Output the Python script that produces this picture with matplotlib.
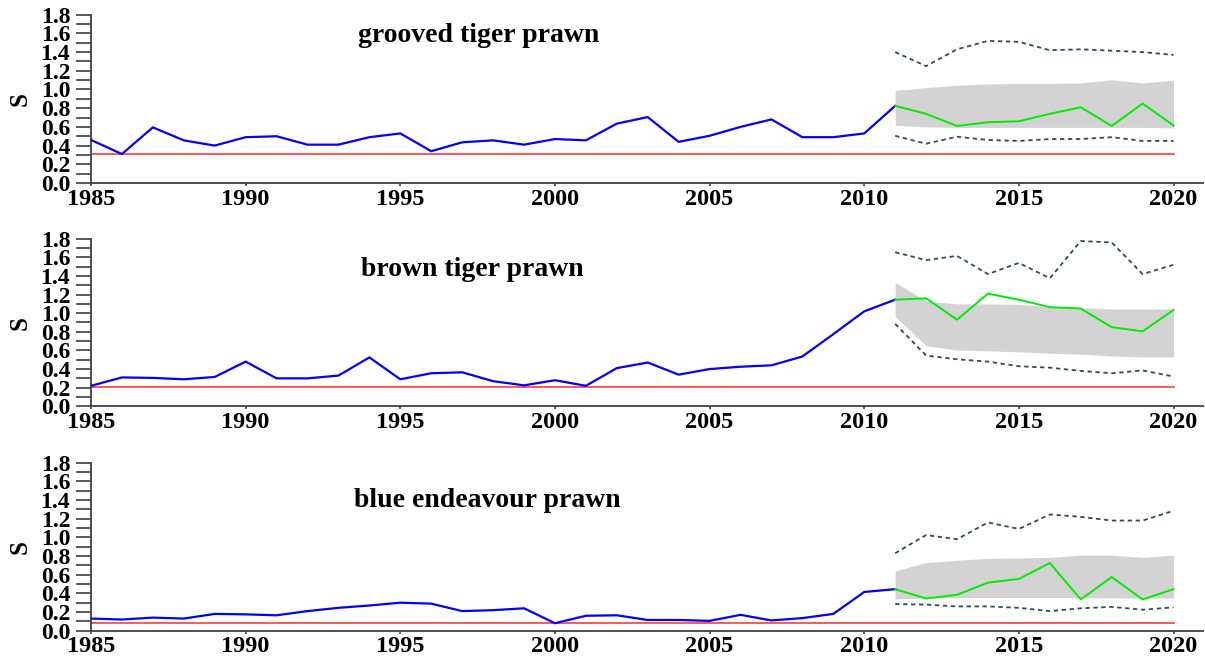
import matplotlib
matplotlib.use("Agg")
import matplotlib.pyplot as plt
import numpy as np
from matplotlib.ticker import MultipleLocator

plt.rcParams['font.family'] = ['Liberation Serif', 'DejaVu Serif']
plt.rcParams['font.weight'] = 'bold'

years_hist = list(range(1985, 2012))
years_proj = list(range(2011, 2021))
species = ["grooved tiger prawn", "brown tiger prawn", "blue endeavour prawn"]

# grooved tiger prawn
gt_hist = [0.46, 0.31, 0.595, 0.456, 0.40, 0.49, 0.50, 0.41, 0.41, 0.49, 0.53, 0.34, 0.435,
           0.456, 0.41, 0.47, 0.456, 0.635, 0.705, 0.44, 0.505, 0.60, 0.68, 0.49, 0.49, 0.53, 0.825]
gt_proj = [0.825, 0.74, 0.61, 0.65, 0.66, 0.74, 0.81, 0.61, 0.85, 0.615]
gt_band_hi = [0.99, 1.02, 1.045, 1.06, 1.065, 1.065, 1.07, 1.105, 1.07, 1.10]
gt_band_lo = [0.615, 0.60, 0.595, 0.595, 0.595, 0.595, 0.595, 0.595, 0.595, 0.59]
gt_up = [1.40, 1.25, 1.43, 1.52, 1.51, 1.42, 1.43, 1.415, 1.40, 1.37]
gt_lo = [0.505, 0.42, 0.495, 0.46, 0.45, 0.47, 0.47, 0.49, 0.45, 0.45]
gt_ref = 0.31

# brown tiger prawn
bt_hist = [0.22, 0.31, 0.305, 0.29, 0.315, 0.48, 0.30, 0.30, 0.33, 0.525, 0.29, 0.355, 0.365,
           0.27, 0.225, 0.28, 0.22, 0.41, 0.47, 0.34, 0.40, 0.425, 0.44, 0.535, 0.775, 1.02, 1.145]
bt_proj = [1.145, 1.16, 0.93, 1.21, 1.145, 1.065, 1.05, 0.85, 0.805, 1.035]
bt_band_hi = [1.33, 1.13, 1.10, 1.10, 1.095, 1.07, 1.06, 1.045, 1.045, 1.045]
bt_band_lo = [0.965, 0.65, 0.605, 0.595, 0.585, 0.57, 0.56, 0.54, 0.53, 0.53]
bt_up = [1.655, 1.57, 1.615, 1.42, 1.54, 1.375, 1.775, 1.76, 1.42, 1.52]
bt_lo = [0.885, 0.545, 0.505, 0.48, 0.43, 0.415, 0.38, 0.355, 0.385, 0.32]
bt_ref = 0.21

# blue endeavour prawn
be_hist = [0.13, 0.12, 0.14, 0.13, 0.18, 0.175, 0.165, 0.21, 0.245, 0.27, 0.30, 0.29, 0.21,
           0.22, 0.24, 0.08, 0.16, 0.165, 0.115, 0.115, 0.105, 0.17, 0.11, 0.135, 0.18, 0.415, 0.445]
be_proj = [0.445, 0.345, 0.385, 0.515, 0.555, 0.725, 0.335, 0.575, 0.335, 0.445]
be_band_hi = [0.64, 0.73, 0.755, 0.775, 0.78, 0.785, 0.81, 0.81, 0.785, 0.81]
be_band_lo = [0.34, 0.35, 0.355, 0.355, 0.355, 0.355, 0.355, 0.35, 0.35, 0.35]
be_up = [0.83, 1.025, 0.98, 1.16, 1.09, 1.245, 1.22, 1.18, 1.18, 1.285]
be_lo = [0.285, 0.28, 0.26, 0.26, 0.245, 0.21, 0.24, 0.255, 0.225, 0.25]
be_ref = 0.086

panels = [
    (gt_hist, gt_proj, gt_band_hi, gt_band_lo, gt_up, gt_lo, gt_ref),
    (bt_hist, bt_proj, bt_band_hi, bt_band_lo, bt_up, bt_lo, bt_ref),
    (be_hist, be_proj, be_band_hi, be_band_lo, be_up, be_lo, be_ref),
]
title_pos = [(1997.54, 1.51), (1997.33, 1.40), (1997.8, 1.33)]
xticks = [1985, 1990, 1995, 2000, 2005, 2010, 2015, 2020]

W, H = 1205, 657
fig = plt.figure(figsize=(W / 100, H / 100), dpi=100)
rects = [(14.7, 183.0), (238.7, 406.3), (462.7, 630.7)]
axc = '#404040'
for i, (top, bot) in enumerate(rects):
    ax = fig.add_axes([91 / W, 1 - bot / H, (1203 - 91) / W, (bot - top) / H])
    hist, proj, bhi, blo, up, lo, ref = panels[i]
    ax.fill_between(years_proj, blo, bhi, color='#d3d3d3', linewidth=0, zorder=1)
    ax.plot([1985, 2020], [ref, ref], color='#ff4a4a', lw=1.3, zorder=2)
    ax.plot(years_hist, hist, color='#0000ff', lw=1.6, zorder=3)
    ax.plot(years_proj, proj, color='#00ee00', lw=1.4, zorder=3)
    ax.plot(years_proj, up, color='#2f4f4f', lw=1.3, dashes=(2.4, 2.0), zorder=3)
    ax.plot(years_proj, lo, color='#2f4f4f', lw=1.3, dashes=(2.4, 2.0), zorder=3)
    ax.set_xlim(1985, 1985 + (1203 - 91) / 30.93)
    ax.set_ylim(0, 1.8)
    for s in ['top', 'right']:
        ax.spines[s].set_visible(False)
    for s in ['left', 'bottom']:
        ax.spines[s].set_color(axc)
        ax.spines[s].set_linewidth(1.3)
    ax.yaxis.set_minor_locator(MultipleLocator(0.1))
    ax.set_yticks(np.arange(0, 1.81, 0.2))
    ax.set_yticklabels([f"{v:.1f}" for v in np.arange(0, 1.81, 0.2)])
    ax.set_xticks(xticks)
    ax.set_xticklabels([str(x) for x in xticks])
    ax.tick_params(axis='y', which='both', length=11, width=1.2, color=axc, pad=4,
                   labelsize=17)
    ax.tick_params(axis='x', which='major', length=2.5, width=1.2, color=axc, pad=1.5,
                   labelsize=17.5)
    for lab in ax.get_xticklabels() + ax.get_yticklabels():
        lab.set_fontweight('bold')
    tx, ty = title_pos[i]
    ax.text(tx, ty, species[i], ha='center', va='baseline', fontsize=20, fontweight='bold')
    fig.text(20 / W, 1 - ((top + bot) / 2) / H, 'S', rotation=90, ha='center', va='center',
             fontsize=18, fontweight='bold')

fig.savefig('out.png', dpi=100)
